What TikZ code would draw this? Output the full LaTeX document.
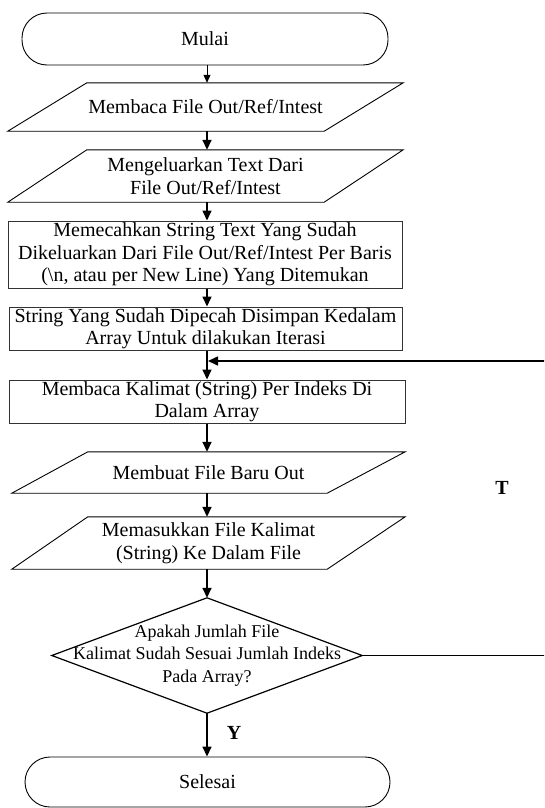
\documentclass[tikz,border=0pt]{standalone}
\usepackage{fontspec}
\setmainfont{Liberation Serif}
\usetikzlibrary{arrows.meta,calc}
\begin{document}
\begin{tikzpicture}[x=1pt,y=-1pt,
  every node/.style={font=\fontsize{20}{22.5}\selectfont, align=center, inner sep=0pt},
  term/.style={draw, line width=0.9pt, rounded corners=25pt},
  procbox/.style={draw, line width=1pt, draw=black!80},
  iobox/.style={},
  shapeline/.style={line width=0.9pt},
  arr/.style={line width=1.6pt, -{Triangle[length=10pt,width=9pt]}},
  thinarr/.style={line width=1pt, -{Triangle[length=8pt,width=7pt]}},
  lbl/.style={font=\fontsize{20}{22.5}\selectfont\bfseries}
]
\useasboundingbox (0,0) rectangle (544,808);
\clip (0,0) rectangle (544,808);

% Start
\node[term, minimum width=366pt, minimum height=52pt] (start) at (205,39) {Mulai};

% Parallelogram 1
\node[iobox, minimum width=395pt, minimum height=48pt] (p1) at (205.5,107) {Membaca File Out/Ref/Intest};
\draw[shapeline] ($(p1.north west)+(79,0)$) -- (p1.north east) -- ($(p1.south east)+(-79,0)$) -- (p1.south west) -- cycle;

% Parallelogram 2
\node[iobox, minimum width=395pt, minimum height=52pt] (p2) at (205.5,176) {Mengeluarkan Text Dari\\File Out/Ref/Intest};
\draw[shapeline] ($(p2.north west)+(79,0)$) -- (p2.north east) -- ($(p2.south east)+(-79,0)$) -- (p2.south west) -- cycle;

% Box 3
\node[procbox, minimum width=394pt, minimum height=67pt] (b3) at (205,254.5) {Memecahkan String Text Yang Sudah\\Dikeluarkan Dari File Out/Ref/Intest Per Baris\\(\textbackslash n, atau per New Line) Yang Ditemukan};

% Box 4
\node[procbox, minimum width=393pt, minimum height=43pt] (b4) at (205.5,328.5) {String Yang Sudah Dipecah Disimpan Kedalam\\Array Untuk dilakukan Iterasi};

% Box 5
\node[procbox, minimum width=396pt, minimum height=43pt] (b5) at (207,401.5) {Membaca Kalimat (String) Per Indeks Di\\Dalam Array};

% Parallelogram 3
\node[iobox, minimum width=393pt, minimum height=41pt] (p3) at (208.5,472.5) {Membuat File Baru Out};
\draw[shapeline] ($(p3.north west)+(76,0)$) -- (p3.north east) -- ($(p3.south east)+(-78,0)$) -- (p3.south west) -- cycle;

% Parallelogram 4
\node[iobox, minimum width=393pt, minimum height=52pt] (p4) at (208.5,543) {Memasukkan File Kalimat\\(String) Ke Dalam File};
\draw[shapeline] ($(p4.north west)+(76,0)$) -- (p4.north east) -- ($(p4.south east)+(-78,0)$) -- (p4.south west) -- cycle;

% Decision
\node[minimum width=310pt, minimum height=115pt, font=\fontsize{18}{22.5}\selectfont] (dec) at (207,655.5) {Apakah Jumlah File\\Kalimat Sudah Sesuai Jumlah Indeks\\Pada Array?};
\draw[line width=1.2pt] (dec.north) -- (dec.east) -- (dec.south) -- (dec.west) -- cycle;

% End
\node[term, minimum width=365pt, minimum height=50pt] (stop) at (207.5,782) {Selesai};

% Connectors
\coordinate (ax) at (207,0);
\draw[thinarr] (start.south -| ax) -- (p1.north -| ax);
\draw[arr] (p1.south -| ax) -- (p2.north -| ax);
\draw[arr] (p2.south -| ax) -- (b3.north -| ax);
\draw[arr] (b3.south -| ax) -- (b4.north -| ax);
\draw[arr] (b4.south -| ax) -- (b5.north -| ax);
\draw[arr] (b5.south -| ax) -- (p3.north -| ax);
\draw[arr] (p3.south -| ax) -- (p4.north -| ax);
\draw[arr] (p4.south -| ax) -- (dec.north);
\draw[arr] (dec.south) -- (stop.north -| ax);

% Loop back (T)
\coordinate (join) at (208,361);
\coordinate (loopright) at (550,655.5);
\draw[line width=1.6pt, -{Triangle[length=10pt,width=9pt]}] (dec.east) -- (loopright) |- (join);

% Labels
\node[lbl] (tlabel) at (502,488) {T};
\node[lbl] (ylabel) at (234,733) {Y};
\end{tikzpicture}
\end{document}
